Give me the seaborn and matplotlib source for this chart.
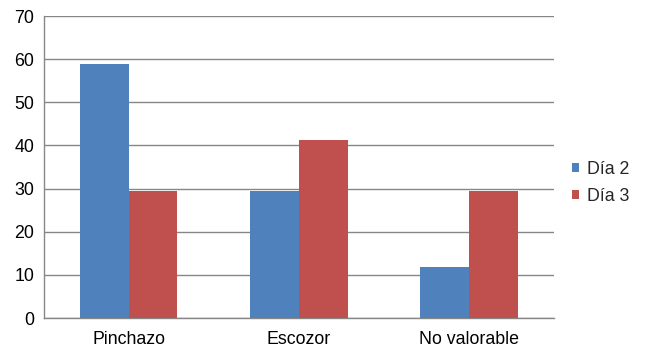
import matplotlib
matplotlib.use("Agg")
import matplotlib.pyplot as plt
from matplotlib.patches import Patch
import seaborn as sns
import pandas as pd

categories = ["Pinchazo", "Escozor", "No valorable"]
series = ["Día 2", "Día 3"]
dia2 = [58.8, 29.4, 11.8]
dia3 = [29.4, 41.2, 29.4]
colors = ["#4F81BD", "#C0504D"]

df = pd.DataFrame({
    "categoria": categories * 2,
    "serie": [series[0]] * 3 + [series[1]] * 3,
    "valor": dia2 + dia3,
})

sns.set_style("white")
plt.rcParams["font.family"] = ["Liberation Sans", "DejaVu Sans"]

fig = plt.figure(figsize=(6.46, 3.51), dpi=100)
ax = fig.add_axes([0.068, 0.094, 0.7896, 0.8604])

sns.barplot(data=df, x="categoria", y="valor", hue="serie", order=categories,
            hue_order=series, palette=colors, width=0.571, saturation=1,
            linewidth=0, ax=ax, legend=False, zorder=3)

grid_c = "#878787"
fs = 12.8
ax.set_ylim(0, 70)
ax.set_xlim(-0.5, 2.5)
ax.set_yticks(range(0, 71, 10))
ax.yaxis.grid(True, color=grid_c, linewidth=1.0, zorder=0)
ax.set_axisbelow(True)
ax.set_xlabel("")
ax.set_ylabel("")

for s in ["top", "right"]:
    ax.spines[s].set_visible(False)
for s in ["left", "bottom"]:
    ax.spines[s].set_color(grid_c)
    ax.spines[s].set_linewidth(1.0)

ax.tick_params(axis="y", length=4, color=grid_c, width=1.0, labelsize=fs,
               labelcolor="black", pad=3)
ax.tick_params(axis="x", which="major", length=0, labelsize=fs,
               labelcolor="black", pad=9)
ax.set_xticks([-0.5, 0.5, 1.5, 2.5], minor=True)
ax.tick_params(axis="x", which="minor", length=4, color=grid_c, width=1.0)

handles = [Patch(facecolor=c, edgecolor="none") for c in colors]
fig.legend(handles, series, loc="center left", bbox_to_anchor=(0.874, 0.479),
           frameon=False, fontsize=fs, handlelength=0.42, handleheight=0.42,
           handletextpad=0.45, labelspacing=0.55, borderaxespad=0)

fig.savefig("out.png", dpi=100)
